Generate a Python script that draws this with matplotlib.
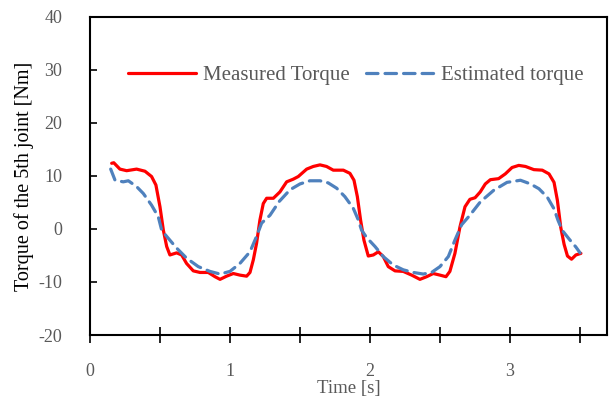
import matplotlib
matplotlib.use("Agg")
import matplotlib.pyplot as plt
from matplotlib.ticker import MultipleLocator, FuncFormatter

# measured joint torque (read from test run)
t_meas = [0.155, 0.17, 0.214, 0.262, 0.333, 0.393, 0.44, 0.471, 0.5, 0.524, 0.548, 0.571,
          0.619, 0.655, 0.69, 0.738, 0.786, 0.845, 0.893, 0.929, 0.976, 1.024, 1.071, 1.119,
          1.143, 1.167, 1.19, 1.214, 1.238, 1.262, 1.31, 1.357, 1.405, 1.452, 1.488, 1.548,
          1.595, 1.643, 1.69, 1.738, 1.81, 1.857, 1.886, 1.91, 1.933, 1.957, 1.988, 2.024,
          2.06, 2.095, 2.131, 2.179, 2.238, 2.298, 2.357, 2.405, 2.452, 2.5, 2.543, 2.571,
          2.607, 2.643, 2.679, 2.714, 2.751, 2.788, 2.824, 2.86, 2.919, 2.967, 3.015, 3.063,
          3.111, 3.171, 3.231, 3.279, 3.315, 3.339, 3.363, 3.387, 3.411, 3.44, 3.471, 3.507]
tq_meas = [12.4, 12.5, 11.3, 11.0, 11.3, 10.9, 9.9, 8.3, 4.2, -0.2, -3.3, -4.9,
           -4.5, -4.9, -6.5, -7.9, -8.2, -8.2, -9.0, -9.5, -8.9, -8.4, -8.7, -8.9,
           -8.2, -5.8, -2.7, 1.7, 4.8, 5.8, 5.8, 7.0, 8.9, 9.4, 9.9, 11.3,
           11.8, 12.1, 11.8, 11.1, 11.1, 10.5, 9.2, 6.1, 1.7, -2.1, -5.1, -4.9,
           -4.3, -5.2, -7.1, -7.9, -8.0, -8.7, -9.5, -9.0, -8.4, -8.7, -9.0, -8.0,
           -4.6, 0.4, 4.2, 5.6, 5.9, 7.0, 8.5, 9.3, 9.5, 10.4, 11.6, 12.0,
           11.8, 11.2, 11.1, 10.4, 8.8, 5.4, 0.3, -2.9, -5.1, -5.7, -4.9, -4.6]

# model estimate
t_est = [0.148, 0.179, 0.238, 0.274, 0.333, 0.381, 0.44, 0.488, 0.512, 0.548, 0.619, 0.69,
         0.774, 0.857, 0.929, 1.0, 1.071, 1.143, 1.19, 1.226, 1.286, 1.352, 1.429, 1.5,
         1.571, 1.643, 1.702, 1.762, 1.821, 1.881, 1.917, 1.94, 1.976, 2.036, 2.095, 2.167,
         2.238, 2.31, 2.381, 2.44, 2.5, 2.56, 2.607, 2.655, 2.714, 2.788, 2.884, 2.979,
         3.075, 3.147, 3.207, 3.267, 3.315, 3.344, 3.375, 3.423, 3.471, 3.501]
tq_est = [11.3, 9.2, 8.9, 9.1, 8.0, 6.7, 4.5, 2.3, -0.2, -1.4, -3.6, -5.5,
          -7.1, -8.0, -8.5, -8.0, -6.5, -4.3, -1.4, 1.1, 2.6, 5.2, 7.4, 8.5,
          9.1, 9.1, 8.7, 7.7, 6.1, 3.9, 1.7, -0.2, -1.6, -3.3, -5.2, -6.8,
          -7.7, -8.2, -8.5, -8.2, -7.1, -5.2, -2.1, 0.8, 2.6, 5.1, 7.3, 8.8,
          9.2, 8.5, 7.6, 6.0, 3.8, 1.6, -0.3, -1.9, -3.4, -4.5]

plt.rcParams['font.family'] = ['Liberation Serif', 'DejaVu Serif']
plt.rcParams['axes.unicode_minus'] = False

gray = '#595959'

fig = plt.figure(figsize=(6.1, 3.99), dpi=100)
ax = fig.add_axes([0.1475, 0.1604, 0.8475, 0.797])

ax.plot(t_meas, tq_meas, color='#FF0000', lw=2.3, label='Measured Torque',
        solid_joinstyle='round', solid_capstyle='round')
ax.plot(t_est, tq_est, color='#4F81BD', lw=2.3, ls=(0, (3.6, 2.2)),
        label='Estimated torque', dash_capstyle='round')

ax.set_xlim(0, 3.693)
ax.set_ylim(-20, 40)
ax.yaxis.set_major_locator(MultipleLocator(10))
ax.xaxis.set_major_locator(MultipleLocator(0.5))
ax.xaxis.set_major_formatter(FuncFormatter(lambda v, p: f"{v:.0f}" if abs(v - round(v)) < 1e-6 else ""))

for s in ax.spines.values():
    s.set_linewidth(1.5)
    s.set_color('black')

ax.tick_params(axis='x', direction='inout', length=12, width=1.2, pad=14,
               labelsize=13, labelcolor=gray)
ax.tick_params(axis='y', direction='in', length=5, width=1.2, pad=20,
               labelsize=13, labelcolor=gray)

ax.set_xlabel('Time [s]', fontsize=13.5, labelpad=0.5, color=gray)
ax.set_ylabel('Torque of the 5th joint [Nm]', fontsize=14.5)
ax.yaxis.set_label_coords(-0.108, 0.5)

leg = ax.legend(loc='upper center', bbox_to_anchor=(0.514, 0.906), ncol=2, frameon=False,
                fontsize=15, handlelength=3.27, columnspacing=0.77, handletextpad=0.34)
for txt in leg.get_texts():
    txt.set_color(gray)

fig.savefig('out.png', dpi=100)
